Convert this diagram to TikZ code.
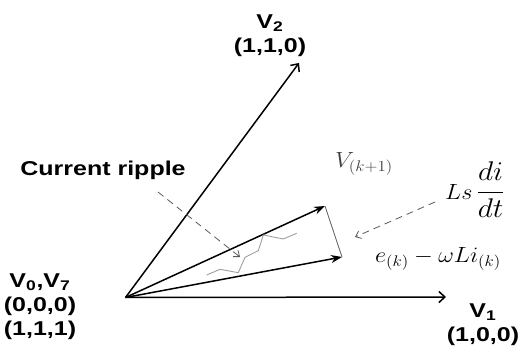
\RequirePackage{fix-cm}
\documentclass[tikz,border=0pt]{standalone}
\usepackage{fontspec}
\setsansfont{Liberation Sans}
\usepackage{graphicx}
\usetikzlibrary{arrows.meta}

\newcommand{\hwide}[1]{\scalebox{1.25}[1]{#1}}
\newcommand{\mwide}[1]{\scalebox{1.1}[1]{#1}}

\begin{document}
\begin{tikzpicture}[x=1pt,y=1pt,
  vec/.style={line width=1.5pt},
  boldlbl/.style={font=\sffamily\bfseries\fontsize{20}{24}\selectfont, align=center, inner sep=0pt},
  mathlbl/.style={font=\fontsize{22}{26}\selectfont, inner sep=0pt},
  hint/.style={gray!70!black, line width=0.8pt, dash pattern=on 7pt off 5pt, -{Straight Barb[length=5pt,width=8pt]}},
  ripple/.style={gray!75, line width=0.9pt}]
\useasboundingbox (0,0) rectangle (522,351);

\coordinate (o) at (125.5,53.5);
\coordinate (v1) at (446,54);
\coordinate (v2) at (299,288);
\coordinate (vk) at (325,145);
\coordinate (ek) at (342,94);

% switching vectors
\draw[vec,-{Straight Barb[length=6pt,width=11pt]}] (o) -- (v1);
\draw[vec,-{Straight Barb[length=6pt,width=11pt]}] (o) -- (v2);
\draw[vec,-{Stealth[length=11pt,width=8pt]}] (o) -- (vk);
\draw[vec,-{Stealth[length=11pt,width=8pt]}] (o) -- (ek);
\draw[gray!80!black, line width=0.9pt] (vk) -- (ek);

% current ripple
\draw[ripple] (206.7,76) -- (220,81.7) -- (238.3,78.3) -- (245,93.7) -- (258.3,100.3)
  -- (263.3,116) -- (283.3,112) -- (296.7,117.7);

\node[boldlbl] (v2lbl) at (270,315) {\hwide{V\textsubscript{2}}\\\hwide{(1,1,0)}};
\node[boldlbl] (v0lbl) at (40,44) {\hwide{V\textsubscript{0},V\textsubscript{7}}\\\hwide{(0,0,0)}\\\hwide{(1,1,1)}};
\node[boldlbl] (v1lbl) at (483,26) {\hwide{V\textsubscript{1}}\\\hwide{(1,0,0)}};
\node[boldlbl] (crip) at (103,181) {\hwide{Current ripple}};

\node[mathlbl, text=black!75] (vklbl) at (364,187) {\mwide{$V_{(k+1)}$}};
\node[mathlbl] (lslbl) at (475,161) {\mwide{$Ls\,$\fontsize{27}{32}\selectfont$\displaystyle\frac{di}{dt}$}};
\node[mathlbl] (eklbl) at (438,92) {\mwide{$e_{(k)}-\omega L i_{(k)}$}};

\coordinate (rs) at (158,159);
\coordinate (re) at (240,94);
\coordinate (ls) at (435,149);
\coordinate (le) at (355,114);
\draw[hint] (rs) -- (re);
\draw[hint] (ls) -- (le);
\end{tikzpicture}
\end{document}
